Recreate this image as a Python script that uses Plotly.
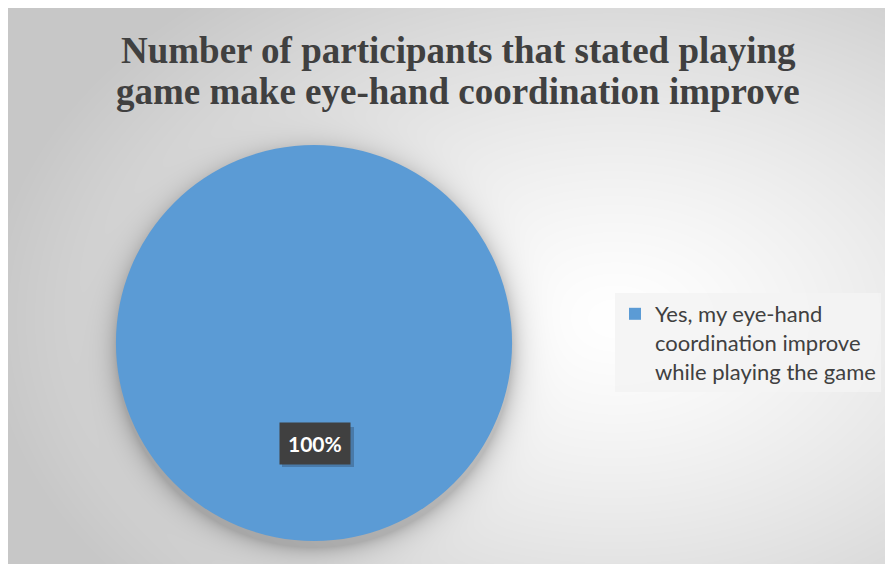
import base64, struct, zlib
import numpy as np
import plotly.graph_objects as go

# ---- data ----
labels = ["Yes, my eye-hand<br>coordination improve<br>while playing the game"]
values = [100]
pct_labels = ["100%"]
title_lines = ["Number of participants that stated playing",
               "game make eye-hand coordination improve"]

W, H = 893, 564

# pie geometry in paper pixels
pcx, pcy, pr = 306, 335, 198

# ---- radial gradient background with soft pie shadow (styling only) ----
def make_png(arr):
    h, w, _ = arr.shape
    raw = b"".join(b"\x00" + arr[i].tobytes() for i in range(h))
    def chunk(t, d):
        c = struct.pack(">I", len(d)) + t + d
        return c + struct.pack(">I", zlib.crc32(t + d) & 0xffffffff)
    png = b"\x89PNG\r\n\x1a\n" + chunk(b"IHDR", struct.pack(">IIBBBBB", w, h, 8, 2, 0, 0, 0))
    png += chunk(b"IDAT", zlib.compress(raw, 9)) + chunk(b"IEND", b"")
    return "data:image/png;base64," + base64.b64encode(png).decode()

gw, gh = W, H
yy, xx = np.mgrid[0:gh, 0:gw].astype(float)
cx, cy = 0.68 * gw, 0.55 * gh
dx = (xx - cx) / (0.70 * gw)
dy = (yy - cy) / (0.75 * gh)
t = np.clip(np.sqrt(dx * dx + dy * dy), 0, 1) ** 1.3
col = 255 * (1 - t) + 200 * t
ds = np.sqrt((xx - pcx) ** 2 + (yy - (pcy + 6)) ** 2) - pr
shadow = np.where(ds > 0, np.exp(-ds / 11.0), 1.0) * 0.22
col = col * (1 - shadow)
img = np.stack([col, col, col], axis=-1).clip(0, 255).astype(np.uint8)
bg_src = make_png(img)

fig = go.Figure()
fig.add_trace(go.Pie(
    labels=labels, values=values,
    marker=dict(colors=["#5B9BD5"], line=dict(width=0)),
    textinfo="none", sort=False, direction="clockwise", rotation=0,
    domain=dict(x=[(pcx - pr) / W, (pcx + pr) / W],
                y=[(H - pcy - pr) / H, (H - pcy + pr) / H]),
    showlegend=True, hoverinfo="label+percent",
))

# label box shadow (shape) + label, centred at (lx, ly) in paper pixels
lx, ly = 307, 435
bw, bh = 72, 40
fig.add_shape(type="rect", xref="paper", yref="paper", layer="above",
              x0=(lx - bw / 2 + 3) / W, x1=(lx + bw / 2 + 3) / W,
              y0=(H - ly - bh / 2 - 4) / H, y1=(H - ly + bh / 2 - 4) / H,
              fillcolor="rgba(40,60,90,0.35)", line=dict(width=0))
fig.add_annotation(x=lx / W, y=(H - ly) / H, xref="paper", yref="paper",
                   xanchor="center", yanchor="middle",
                   text="<b>" + pct_labels[0] + "</b>", showarrow=False,
                   font=dict(family="Lato", size=21, color="white"),
                   bgcolor="#404040", borderpad=8)

# title lines
for line, ymid in zip(title_lines, [42, 83]):
    fig.add_annotation(x=450 / W, y=(H - ymid) / H, xref="paper", yref="paper",
                       xanchor="center", yanchor="middle", showarrow=False,
                       text="<b>" + line + "</b>",
                       font=dict(family="Liberation Serif", size=37, color="#404040"))

fig.update_layout(
    width=W, height=H,
    margin=dict(l=0, r=0, t=0, b=0),
    paper_bgcolor="white", plot_bgcolor="white",
    legend=dict(x=607 / W, y=(H - 285) / H, xanchor="left", yanchor="top",
                bgcolor="rgba(243,243,243,0.85)", valign="top",
                font=dict(family="Lato", size=22, color="#404040"),
                itemsizing="constant"),
    images=[dict(source=bg_src, xref="paper", yref="paper",
                 x=0, y=1, sizex=1, sizey=1,
                 xanchor="left", yanchor="top", sizing="stretch", layer="below")],
)

fig.write_html("out.html")
